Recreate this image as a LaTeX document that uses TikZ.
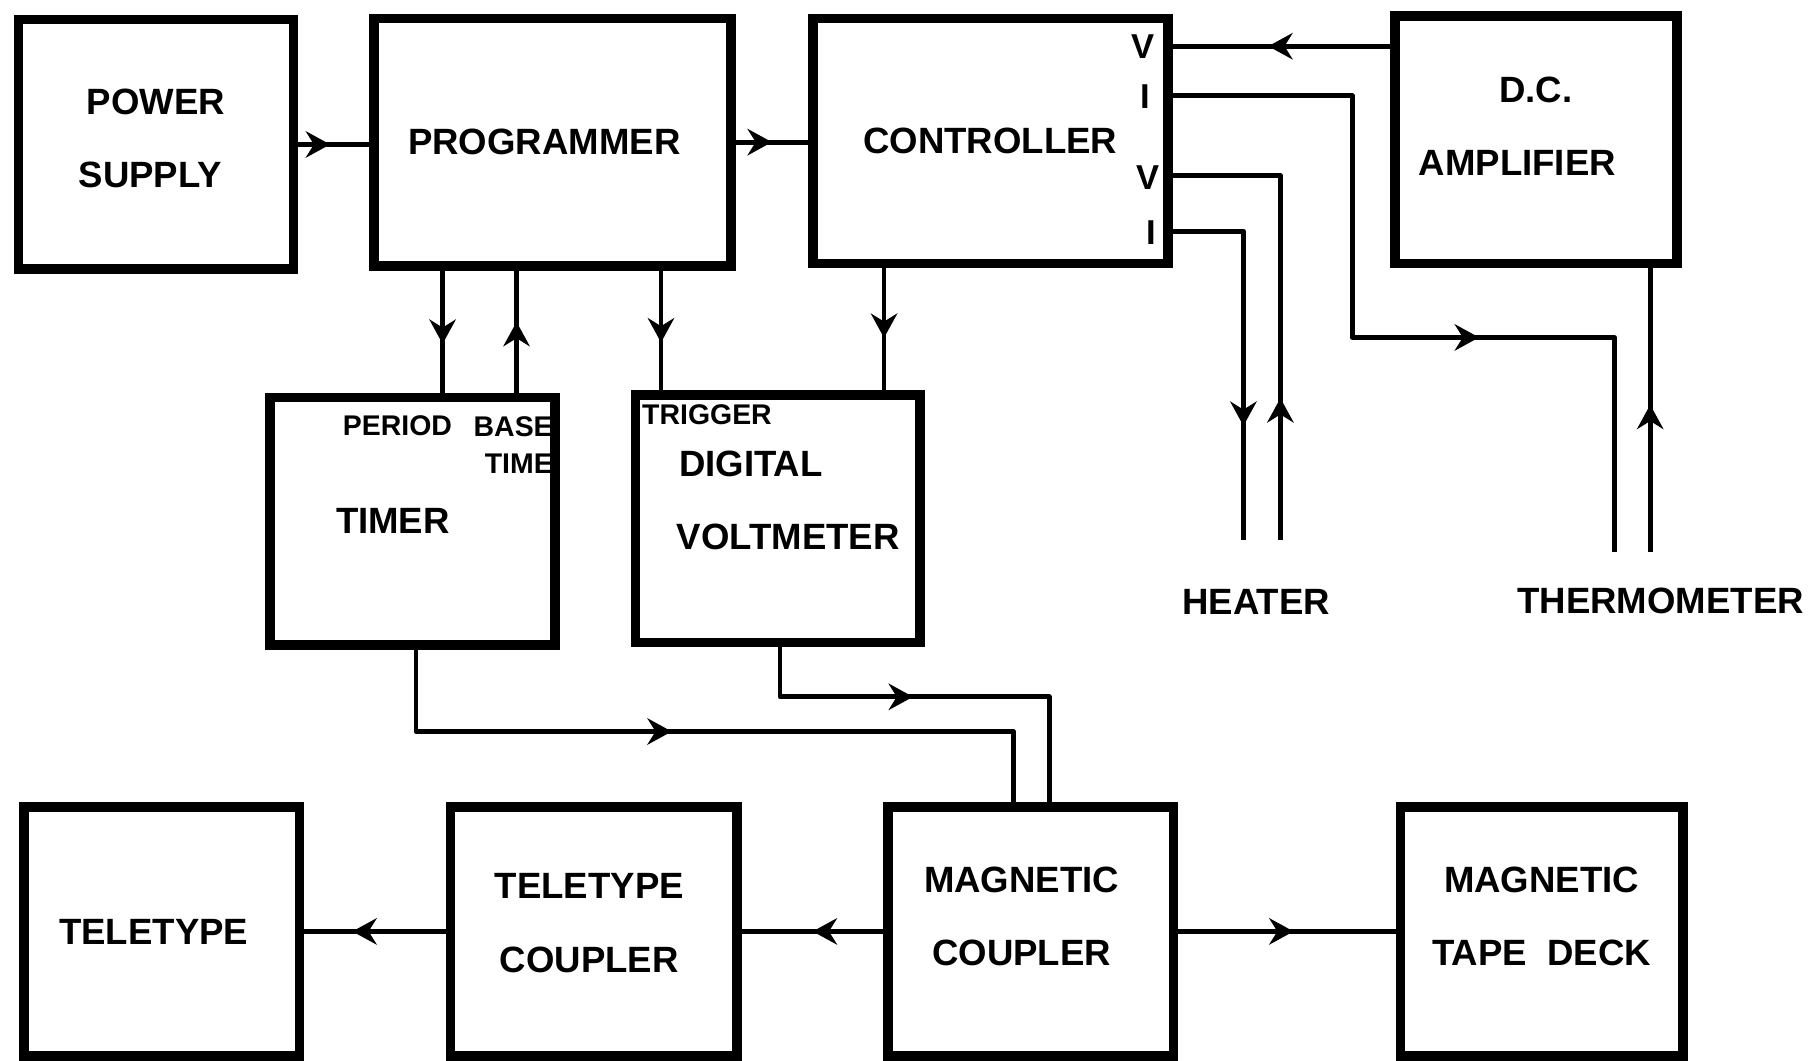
\documentclass[tikz,border=0pt]{standalone}
\usepackage{fontspec}
\setmainfont{Liberation Sans}
\usetikzlibrary{arrows.meta,decorations.markings,positioning,calc}

\begin{document}
\begin{tikzpicture}[
  x=0.01cm, y=-0.01cm,
  box/.style={rectangle, draw=black, line width=2.4pt, inner sep=0pt, align=center, font=\bfseries\fontsize{9}{18}\selectfont},
  tag/.style={inner sep=0pt, font=\bfseries\fontsize{7}{8}\selectfont},
  vi/.style={inner sep=0pt, font=\bfseries\fontsize{8.5}{9}\selectfont},
  ends/.style={inner sep=0pt, font=\bfseries\fontsize{9}{10}\selectfont},
  wire/.style={line width=1.2pt, line join=round},
  midarrow/.style={postaction={decorate}, decoration={markings, mark=at position #1 with {\arrow{Stealth[length=6pt,width=6.5pt,inset=2pt]}}}},
  midarrow/.default=0.5
]
  \useasboundingbox (0,0) rectangle (1568,918);

  % top row
  \node[box, minimum width=2.38cm, minimum height=2.16cm, text depth=3.1pt] (ps) at (135,125) {POWER\\SUPPLY\kern0.1cm};
  \node[box, minimum width=3.09cm, minimum height=2.14cm] (prog) at (478,123) {PROGRAMMER\kern0.14cm};
  \node[box, minimum width=3.07cm, minimum height=2.12cm] (ctl) at (857,122) {CONTROLLER};
  \node[box, minimum width=2.44cm, minimum height=2.14cm, text depth=6.5pt] (amp) at (1329,121) {D.C.\\AMPLIFIER\kern0.32cm};

  % middle row
  \node[box, minimum width=2.46cm, minimum height=2.14cm] (tim) at (357,451) {TIMER\kern0.34cm};
  \node[box, minimum width=2.46cm, minimum height=2.14cm, align=left, text depth=9pt] (dvm) at (673,449) {\kern0.2cm DIGITAL\\\kern0.18cm VOLTMETER};

  % bottom row
  \node[box, minimum width=2.38cm, minimum height=2.15cm] (tty) at (140,806) {TELETYPE\kern0.14cm};
  \node[box, minimum width=2.48cm, minimum height=2.15cm, text depth=4.2pt] (tcpl) at (514,806) {TELETYPE\kern0.08cm\\COUPLER\kern0.08cm};
  \node[box, minimum width=2.47cm, minimum height=2.15cm, text depth=7.6pt] (mcpl) at (892,806) {MAGNETIC\kern0.16cm\\COUPLER\kern0.16cm};
  \node[box, minimum width=2.44cm, minimum height=2.15cm, text depth=7.6pt] (deck) at (1334,806) {MAGNETIC\\TAPE\ \ DECK};

  % small labels
  \node[tag, anchor=west] (period) at (296,368) {PERIOD};
  \node[tag, anchor=east] (base) at (479,369) {BASE};
  \node[tag, anchor=east] (time) at (479,401) {TIME};
  \node[tag, anchor=west] (trig) at (555,359) {TRIGGER};
  \node[vi] (lv1) at (989,40) {V};
  \node[vi] (li1) at (991,84) {I};
  \node[vi] (lv2) at (993,154) {V};
  \node[vi] (li2) at (996,201) {I};
  \node[ends] (heater) at (1087,521) {HEATER};
  \node[ends] (thermo) at (1437,520) {THERMOMETER};

  % helper points
  \coordinate (tdn) at (383,0);
  \coordinate (tup) at (447,0);
  \coordinate (trg) at (572,0);
  \coordinate (cdn) at (765,0);
  \coordinate (v1) at (0,40);
  \coordinate (i1) at (0,83);
  \coordinate (v2) at (0,152);
  \coordinate (i2) at (0,200);
  \coordinate (bend) at (1170,292);
  \coordinate (htr1) at (1076,467);
  \coordinate (htr2) at (1108,467);
  \coordinate (thm1) at (1397,478);
  \coordinate (thm2) at (1428,478);
  \coordinate (tb) at (360,633);
  \coordinate (db) at (675,603);
  \coordinate (m1) at (877,0);
  \coordinate (m2) at (908,0);

  % connections
  \draw[wire, midarrow=0.45] (ps.east) -- (ps.east -| prog.west);
  \draw[wire, midarrow=0.5] (prog.east) -- (prog.east -| ctl.west);
  \draw[wire, midarrow=0.6] (prog.south -| tdn) -- (tim.north -| tdn);
  \draw[wire, midarrow=0.58] (tim.north -| tup) -- (prog.south -| tup);
  \draw[wire, midarrow=0.6] (prog.south -| trg) -- (dvm.north -| trg);
  \draw[wire, midarrow=0.57] (ctl.south -| cdn) -- (dvm.north -| cdn);

  \draw[wire, midarrow=0.56] (amp.west |- v1) -- (ctl.east |- v1);
  \draw[wire, midarrow=0.61] (ctl.east |- i1) -| (bend) -| (thm1);
  \draw[wire, midarrow=0.3] (htr2) |- (ctl.east |- v2);
  \draw[wire, midarrow=0.7] (ctl.east |- i2) -| (htr1);
  \draw[wire, midarrow=0.52] (thm2) -- (amp.south -| thm2);

  \draw[wire, midarrow=0.45] (tim.south -| tb) -- (tb) -| (mcpl.north -| m1);
  \draw[wire, midarrow=0.43] (dvm.south -| db) -- (db) -| (mcpl.north -| m2);
  \draw[wire, midarrow=0.5] (mcpl.west) -- (tcpl.east);
  \draw[wire, midarrow=0.66] (tcpl.west) -- (tty.east);
  \draw[wire, midarrow=0.53] (mcpl.east) -- (deck.west);
\end{tikzpicture}
\end{document}
